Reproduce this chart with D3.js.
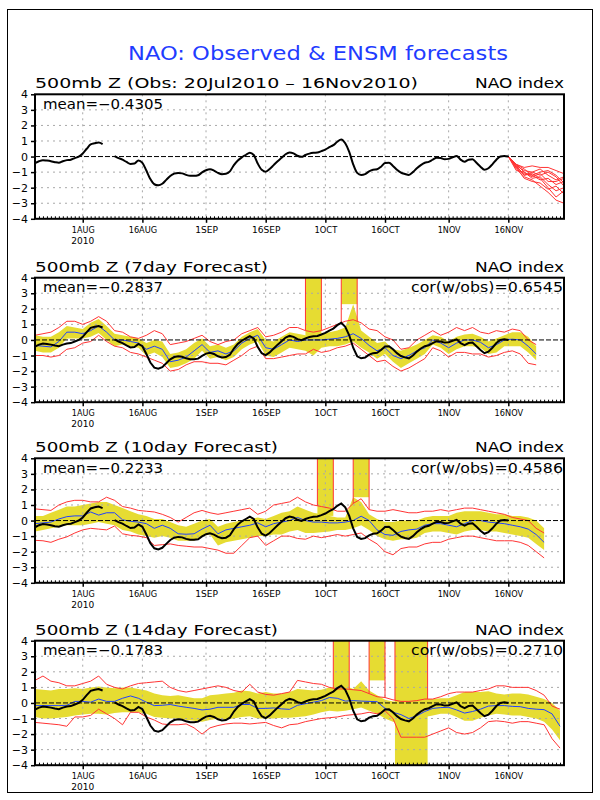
<!DOCTYPE html>
<html><head><meta charset="utf-8">
<script src="https://cdn.jsdelivr.net/npm/d3@7"></script>
<style>body{margin:0;background:#fff} text{font-family:"DejaVu Sans",sans-serif}</style>
</head><body><svg id="c" width="600" height="800"></svg>
<script>
// ---------------- DATA ----------------
const startDay = "2010-07-20";
const endDay = "2010-11-30";
const tickDates = ["2010-08-01","2010-08-16","2010-09-01","2010-09-16","2010-10-01","2010-10-16","2010-11-01","2010-11-16"];
const tickLabels = ["1AUG","16AUG","1SEP","16SEP","1OCT","16OCT","1NOV","16NOV"];
const yearLabel = "2010";
const yTicks = [4,3,2,1,0,-1,-2,-3,-4];

// observed NAO index, daily from 20Jul2010 (null = missing)
const obsValues = [-0.43,-0.3,-0.23,-0.26,-0.3,-0.36,-0.4,-0.3,-0.23,-0.2,
 -0.1,0.0,0.2,0.5,0.78,0.85,0.9,0.8,null,null,
 0.03,-0.1,-0.2,-0.35,-0.48,-0.45,-0.25,-0.4,-0.9,-1.45,
 -1.78,-1.85,-1.75,-1.5,-1.25,-1.1,-1.05,-1.08,-1.18,-1.24,
 -1.24,-1.2,-1.02,-0.88,-0.82,-0.9,-1.05,-1.13,-1.1,-0.95,
 -0.55,-0.25,-0.05,0.1,0.25,0.1,-0.45,-0.85,-0.97,-0.8,
 -0.55,-0.3,-0.08,0.15,0.26,0.2,0.05,-0.02,0.1,0.19,
 0.24,0.26,0.35,0.45,0.6,0.73,0.95,1.1,0.85,0.3,
 -0.5,-1.05,-1.18,-1.13,-0.95,-0.85,-0.82,-0.65,-0.42,-0.4,
 -0.6,-0.85,-1.03,-1.12,-1.18,-1.0,-0.75,-0.55,-0.4,-0.34,
 -0.2,-0.08,-0.1,-0.17,-0.15,-0.05,0.04,-0.2,-0.33,-0.2,
 -0.17,-0.4,-0.65,-0.85,-0.75,-0.5,-0.2,0.0,0.04,0.0];

// ensemble member forecasts from 16Nov (days 119,121,...,133)
const ensDays = [119,121,123,125,127,129,131,133];
const ensMembers = [
 [0,-0.5,-0.7,-0.6,-0.7,-0.7,-0.9,-1.1],
 [0,-0.6,-0.9,-1.0,-0.8,-1.2,-1.5,-1.3],
 [0,-0.7,-1.1,-1.2,-1.5,-1.4,-1.8,-1.6],
 [0,-0.5,-1.0,-1.4,-1.3,-1.8,-2.2,-2.0],
 [0,-0.8,-1.3,-1.5,-1.9,-2.3,-2.8,-3.0],
 [0,-0.6,-1.2,-1.0,-1.2,-1.0,-1.3,-1.9],
 [0,-0.7,-1.4,-1.6,-1.7,-2.1,-1.9,-2.4],
 [0,-0.9,-1.0,-1.3,-1.1,-1.6,-1.6,-1.4],
 [0,-0.6,-1.2,-1.1,-1.4,-2.0,-2.6,-2.2],
 [0,-0.5,-0.8,-1.2,-1.0,-0.9,-1.2,-1.7]];

// forecast panels, every 2 days from 20Jul2010
const mean7 = [-0.35,-0.4,-0.45,-0.1,0.5,0.5,0.4,0.6,0.9,0.5,0.0,0.0,-0.1,-0.2,-0.6,-0.4,-0.6,-1.4,-1.3,-1.1,-0.7,-0.3,-0.8,-0.7,-0.9,-0.7,-0.2,0.1,0.3,-0.5,-0.6,-0.3,0.0,-0.1,
 0.0,0.0,0.0,0.05,0.1,0.2,0.4,0.1,-0.35,-0.7,-0.5,-1.0,-1.2,-1.0,-0.7,-0.5,0.0,-0.2,-0.5,-0.2,0.0,0.0,-0.15,-0.5,-0.3,0.0,0.05,0.0,-0.4,-0.9];
const bandHi7 = [0.3,0.2,0.2,0.5,0.9,0.8,0.7,1.1,1.35,0.9,0.4,0.3,0.2,0.1,-0.2,0.0,-0.1,-0.9,-0.8,-0.6,-0.2,0.1,-0.4,-0.3,-0.5,-0.3,0.2,0.5,0.7,0.0,-0.1,0.2,0.5,0.4,
 0.3,0.4,0.4,0.5,0.6,0.8,2.3,0.6,0.2,-0.2,-0.1,-0.6,-0.7,-0.5,-0.3,0.0,0.3,0.2,-0.1,0.2,0.35,0.4,0.2,-0.1,0.1,0.3,0.5,0.5,0.2,-0.4];
const bandLo7 = [-0.7,-0.8,-0.8,-0.5,0.1,0.1,0.1,0.2,0.45,0.0,-0.4,-0.3,-0.4,-0.5,-1.0,-0.8,-1.1,-1.8,-1.7,-1.5,-1.2,-0.7,-1.2,-1.1,-1.3,-1.1,-0.6,-0.3,-0.1,-1.0,-1.1,-0.8,-0.5,-0.6,
 -0.7,-1.0,-0.5,-0.4,-0.4,-0.3,-0.1,-0.5,-0.8,-1.2,-0.9,-1.4,-1.8,-1.5,-1.2,-0.9,-0.3,-0.5,-0.9,-0.6,-0.4,-0.4,-0.5,-0.9,-0.8,-0.4,-0.4,-0.4,-0.8,-1.3];
const max7 = [0.3,0.4,0.5,0.8,1.2,1.2,1.0,1.2,1.5,1.2,0.6,0.5,0.2,0.1,0.3,0.6,0.4,-0.3,-0.2,-0.1,0.1,0.3,-0.1,-0.3,-0.1,0.0,0.4,0.6,0.8,0.2,0.3,0.5,0.8,0.8,
 0.6,0.5,0.6,0.8,1.0,1.2,1.3,1.1,0.7,0.6,0.2,0.0,-0.6,-0.5,0.0,0.3,0.6,0.3,0.5,0.8,0.6,0.8,0.5,0.4,0.6,0.5,0.7,0.6,0.0,-0.3];
const min7 = [-1.0,-1.0,-1.1,-1.0,-0.6,-0.5,-0.2,-0.1,0.3,-0.1,-0.4,-0.5,-0.8,-0.9,-1.1,-1.3,-1.5,-2.0,-1.9,-1.6,-1.4,-1.4,-1.5,-1.5,-1.6,-1.3,-1.0,-0.6,-0.4,-1.2,-1.2,-1.1,-1.0,-0.9,
 -0.9,-0.6,-0.8,-0.7,-0.5,-0.4,-0.2,-0.6,-1.0,-1.4,-1.3,-1.7,-2.0,-1.8,-1.5,-1.2,-0.5,-0.7,-1.1,-0.8,-0.8,-0.9,-0.9,-1.1,-1.0,-0.8,-0.7,-0.9,-1.5,-1.6];
const spikes7 = [[68,72,0.3],[77,81,2.3]];

const mean10 = [-0.2,-0.15,-0.1,0.1,0.25,0.3,0.3,0.55,0.35,0.5,0.5,0.05,-0.05,-0.1,-0.2,-0.5,-0.3,-0.5,-0.85,-0.88,-0.85,-0.55,-0.3,-0.85,-0.6,-0.5,-0.4,-0.3,-0.15,-0.4,-0.2,-0.1,0.0,0.2,
 0.0,-0.1,-0.1,-0.15,-0.15,-0.1,0.0,0.28,0.0,-0.6,-0.9,-0.95,-0.7,-0.6,-0.55,-0.3,-0.2,-0.2,-0.3,-0.4,-0.2,0.0,0.0,-0.1,-0.15,-0.2,-0.3,-0.4,-0.55,-0.9,-1.4];
const bandHi10 = [0.3,0.3,0.5,0.7,0.9,0.9,1.0,1.1,1.2,1.2,1.0,0.8,0.6,0.4,0.3,0.1,0.1,-0.1,-0.3,-0.4,-0.2,0.0,0.1,-0.4,-0.2,-0.1,0.0,0.1,0.2,0.1,0.3,0.5,0.6,0.9,
 0.7,0.5,0.4,0.3,0.2,0.2,1.5,1.2,0.4,0.1,-0.1,-0.1,0.0,0.0,0.0,0.2,0.3,0.3,0.3,0.5,0.6,0.6,0.6,0.5,0.4,0.4,0.3,0.3,0.2,0.0,-0.5];
const bandLo10 = [-0.7,-0.6,-0.5,-0.4,-0.3,-0.3,-0.3,-0.2,-0.1,-0.2,-0.3,-0.6,-0.7,-0.9,-1.0,-1.1,-1.0,-1.1,-1.3,-1.3,-1.3,-1.0,-0.9,-1.6,-1.4,-1.3,-1.2,-1.1,-1.0,-1.0,-0.9,-0.9,-0.7,-0.6,
 -0.8,-0.8,-0.75,-0.7,-0.6,-0.6,-0.5,-0.3,-0.6,-1.0,-1.2,-1.3,-1.2,-1.2,-1.1,-0.8,-0.7,-0.7,-0.8,-0.9,-0.7,-0.6,-0.6,-0.7,-0.7,-0.8,-0.9,-1.0,-1.1,-1.5,-1.9];
const max10 = [0.75,0.7,0.65,1.0,1.2,1.3,1.3,1.2,1.2,1.5,1.3,0.9,0.8,0.65,0.6,0.55,0.4,0.2,-0.1,0.2,0.5,0.65,0.5,0.4,0.5,0.6,0.7,0.8,0.4,0.6,1.0,1.1,1.2,1.5,
 1.2,1.0,0.9,0.8,0.6,0.6,1.1,1.4,0.7,0.6,0.6,0.7,0.6,0.5,0.5,0.6,0.6,0.7,0.6,0.7,0.8,0.8,0.7,0.6,0.5,0.4,0.2,0.1,0.0,-0.5,-0.8];
const min10 = [-1.27,-1.3,-1.4,-1.2,-1.05,-0.8,-0.6,-0.5,-0.55,-0.6,-0.35,-0.85,-0.95,-1.0,-1.1,-1.6,-1.55,-1.5,-1.6,-1.65,-1.7,-1.7,-1.8,-1.9,-2.1,-2.1,-1.6,-1.1,-1.0,-1.6,-1.3,-1.0,-1.0,-1.15,
 -1.2,-1.0,-1.1,-1.0,-0.9,-1.0,-0.9,-0.8,-1.2,-1.5,-2.0,-2.2,-1.8,-1.7,-1.7,-1.5,-1.4,-1.4,-1.2,-1.1,-1.0,-1.0,-1.1,-1.2,-1.3,-1.3,-1.3,-1.4,-1.6,-2.0,-2.4];
const spikes10 = [[71,75,0.3],[80,84,1.5]];

const mean14 = [-0.17,-0.17,-0.17,-0.17,-0.15,0.1,0.1,0.05,0.25,0.1,0.1,0.3,0.45,0.3,0.05,-0.17,-0.15,-0.1,-0.2,-0.28,-0.35,-0.45,-0.4,-0.28,-0.28,-0.28,-0.1,-0.1,-0.35,-0.35,-0.32,-0.38,-0.41,-0.15,
 -0.05,0.05,0.15,0.35,0.3,0.12,0.15,0.12,0.1,0.08,-0.35,-0.6,-0.75,-1.0,-0.82,-0.55,-0.35,-0.3,-0.28,-0.45,-0.65,-0.55,-0.4,-0.2,-0.17,-0.17,-0.22,-0.24,-0.35,-0.4,-0.43,-0.7,-1.5];
const bandHi14 = [0.9,0.85,0.8,0.9,0.9,0.95,0.9,1.0,1.05,1.0,0.95,1.0,1.0,0.9,0.8,0.6,0.5,0.45,0.5,0.4,0.3,0.3,0.5,0.55,0.6,0.65,0.8,0.75,0.6,0.7,0.6,0.6,0.7,0.9,
 0.85,0.8,0.85,1.0,1.0,1.1,0.9,1.4,0.8,0.5,0.2,0.1,0.1,0.1,0.2,0.25,0.25,0.3,0.3,0.5,0.7,0.7,0.7,0.75,0.6,0.55,0.6,0.6,0.55,0.4,0.25,0.0,-0.5];
const bandLo14 = [-0.9,-1.0,-1.0,-0.95,-0.9,-0.8,-0.75,-0.7,-0.7,-0.75,-0.65,-0.6,-0.6,-0.6,-0.7,-0.9,-0.95,-1.0,-1.0,-1.1,-1.15,-1.2,-1.1,-1.0,-1.05,-1.0,-0.9,-0.85,-1.0,-1.0,-1.0,-0.95,-0.95,-0.9,
 -0.85,-0.75,-0.6,-0.5,-0.55,-0.5,-0.4,-0.3,-0.5,-0.7,-1.0,-1.2,-1.3,-1.3,-1.2,-0.9,-0.8,-0.7,-0.7,-0.9,-1.15,-1.15,-0.95,-0.8,-0.7,-0.75,-0.8,-0.8,-0.9,-1.0,-1.2,-1.7,-2.4];
const max14 = [1.45,1.73,1.4,1.3,1.1,1.1,1.25,1.4,1.73,1.2,1.0,0.9,1.1,1.25,1.3,1.35,1.4,1.0,0.8,0.7,0.8,0.9,1.0,1.1,1.0,0.8,0.7,1.2,0.7,0.55,0.5,0.6,0.7,1.45,
 1.35,1.25,1.2,1.0,0.9,0.9,0.85,0.8,0.6,0.4,0.35,0.2,0.1,0.1,0.15,0.25,0.25,0.4,0.6,0.7,0.7,0.7,0.8,0.9,1.1,1.1,1.0,1.0,1.0,0.8,0.5,-0.2,-0.4];
const min14 = [-1.25,-1.3,-1.35,-1.4,-1.5,-0.9,-0.9,-0.8,-0.4,-0.7,-1.0,-1.4,-0.6,-0.6,-0.9,-1.1,-1.35,-1.4,-1.4,-1.35,-1.6,-2.0,-1.6,-1.45,-1.35,-1.3,-1.3,-1.35,-1.3,-1.25,-1.45,-1.6,-1.4,-1.35,
 -1.2,-1.1,-1.0,-0.95,-0.9,-0.8,-0.75,-0.7,-0.6,-0.7,-0.5,-1.0,-2.2,-2.2,-2.2,-2.2,-2.0,-1.8,-1.6,-1.9,-2.0,-1.9,-1.6,-1.2,-1.15,-1.2,-1.3,-1.2,-1.2,-1.3,-1.4,-2.3,-2.9];
const spikes14 = [[75,79,0.9],[84,88,1.45],[90.5,98.7,-4]];

const panelTitles = ["500mb Z (Obs: 20Jul2010 \u2013 16Nov2010)","500mb Z (7day Forecast)","500mb Z (10day Forecast)","500mb Z (14day Forecast)"];
const meanLabels = ["mean=\u22120.4305","mean=\u22120.2837","mean=\u22120.2233","mean=\u22120.1783"];
const corLabels = [null,"cor(w/obs)=0.6545","cor(w/obs)=0.4586","cor(w/obs)=0.2710"];
const mainTitle = "NAO: Observed & ENSM forecasts";
const rightTitle = "NAO index";

// ---------------- DRAW ----------------
const svg = d3.select("#c");
const parse = d3.utcParse("%Y-%m-%d");
const d0 = parse(startDay);
const toDate = d => d3.utcHour.offset(d0, Math.round(d*24));
const x = d3.scaleUtc().domain([d0, parse(endDay)]).range([35, 564]);
const tDates = tickDates.map(parse);
const YELLOW = "#e6dc32", RED = "#ff3434", BLUE = "#2040ff";

svg.append("rect").attr("x",7.5).attr("y",9.5).attr("width",585).attr("height",783)
  .attr("fill","none").attr("stroke","#000").attr("stroke-width",1);

svg.append("text").attr("x",128).attr("y",60).attr("fill","#1f3cff")
  .attr("font-size",20).attr("textLength",380).attr("lengthAdjust","spacingAndGlyphs").text(mainTitle);

const tops = [94.3, 277.7, 458.3, 640.7];
const plotH = 124.5;
const fc = [
  null,
  {mean:mean7, hi:bandHi7, lo:bandLo7, max:max7, min:min7, spikes:spikes7},
  {mean:mean10, hi:bandHi10, lo:bandLo10, max:max10, min:min10, spikes:spikes10},
  {mean:mean14, hi:bandHi14, lo:bandLo14, max:max14, min:min14, spikes:spikes14}
];
const titleW = [383, 233, 243, 243];

tops.forEach((top, p) => {
  const y = d3.scaleLinear().domain([-4,4]).range([top+plotH, top]);
  const g = svg.append("g");
  const cid = "clip"+p;
  svg.append("clipPath").attr("id",cid).append("rect")
     .attr("x",35).attr("y",top).attr("width",529).attr("height",plotH);
  const pl = g.append("g").attr("clip-path",`url(#${cid})`);

  const f = fc[p];
  if (f) {
    const days = f.mean.map((_,i)=>i*2);
    const rows = days.map((d,i)=>({d, m:f.mean[i], hi:f.hi[i], lo:f.lo[i]}));
    f.spikes.forEach(s => {
      pl.append("rect").attr("x",x(toDate(s[0]))).attr("width",x(toDate(s[1]))-x(toDate(s[0])))
        .attr("y",y(4)).attr("height",y(s[2])-y(4)).attr("fill",YELLOW);
    });
    pl.append("path").datum(rows).attr("fill",YELLOW)
      .attr("d", d3.area().x(r=>x(toDate(r.d))).y0(r=>y(r.lo)).y1(r=>y(r.hi)));
  }
  // grid
  yTicks.filter(v=>v!==0 && Math.abs(v)<4).forEach(v=>{
    pl.append("line").attr("x1",35).attr("x2",564).attr("y1",y(v)).attr("y2",y(v))
      .attr("stroke","#a8a8a8").attr("stroke-dasharray","2,4");
  });
  tDates.forEach(t=>{
    pl.append("line").attr("x1",x(t)).attr("x2",x(t)).attr("y1",top).attr("y2",top+plotH)
      .attr("stroke","#a8a8a8").attr("stroke-dasharray","2,4");
  });
  if (f) {
    const days = f.mean.map((_,i)=>i*2);
    const interp = (arr, d) => { const i=Math.min(Math.floor(d/2), arr.length-2); const t=(d-i*2)/2; return arr[i]+(arr[i+1]-arr[i])*t; };
    ["max","min"].forEach(k=>{
      pl.append("path").datum(f[k]).attr("fill","none").attr("stroke",RED).attr("stroke-width",1)
        .attr("d", d3.line().x((v,i)=>x(toDate(days[i]))).y(v=>y(v)));
    });
    f.spikes.forEach(s=>{
      [s[0], s[1]].forEach(e=>{
        pl.append("line").attr("x1",x(toDate(e))).attr("x2",x(toDate(e)))
          .attr("y1",y(4)).attr("y2",y(interp(f.max,e))).attr("stroke",RED);
      });
    });
    pl.append("path").datum(f.mean).attr("fill","none").attr("stroke",BLUE).attr("stroke-width",1)
      .attr("d", d3.line().x((v,i)=>x(toDate(days[i]))).y(v=>y(v)));
  } else {
    ensMembers.forEach(m=>{
      pl.append("path").datum(m).attr("fill","none").attr("stroke",RED).attr("stroke-width",1)
        .attr("d", d3.line().x((v,i)=>x(toDate(ensDays[i]))).y(v=>y(v)));
    });
  }
  pl.append("line").attr("x1",35).attr("x2",564).attr("y1",y(0)).attr("y2",y(0))
    .attr("stroke","#000").attr("stroke-dasharray","5,2");
  pl.append("path").datum(obsValues).attr("fill","none").attr("stroke","#000").attr("stroke-width",2)
    .attr("d", d3.line().defined(v=>v!==null).x((v,i)=>x(toDate(i))).y(v=>y(v))
      .curve(p===0 ? d3.curveMonotoneX : d3.curveLinear));

  g.append("rect").attr("x",35).attr("y",top).attr("width",529).attr("height",plotH)
    .attr("fill","none").attr("stroke","#000").attr("stroke-width",2);
  const minor = g.append("g").attr("transform",`translate(0,${top+plotH})`)
    .call(d3.axisBottom(x).ticks(d3.utcDay.every(1)).tickSize(-2.5).tickFormat(""));
  minor.select(".domain").remove();
  const ax = g.append("g").attr("transform",`translate(0,${top+plotH})`)
    .call(d3.axisBottom(x).tickValues(tDates).tickFormat((d,i)=>tickLabels[i]).tickSize(4).tickPadding(4));
  ax.select(".domain").remove();
  ax.selectAll("line").attr("stroke-width",1.5);
  ax.selectAll("text").attr("font-size",9.5).attr("font-family","Liberation Sans").attr("dy",null).attr("y",14.3)
    .attr("textLength",function(){return this.textContent.length*5.7;}).attr("lengthAdjust","spacingAndGlyphs");
  g.append("text").attr("x",x(tDates[0])).attr("y",top+plotH+25.2).attr("text-anchor","middle")
    .attr("font-size",9.5).attr("font-family","Liberation Sans")
    .attr("textLength",23).attr("lengthAdjust","spacingAndGlyphs").text(yearLabel);
  const ay = g.append("g").attr("transform","translate(35,0)")
    .call(d3.axisLeft(y).tickValues(yTicks).tickSize(4).tickPadding(3)
      .tickFormat(v=> v<0 ? "\u2212"+(-v) : String(v)));
  ay.select(".domain").remove();
  ay.selectAll("line").attr("stroke-width",1.5);
  ay.selectAll("text").attr("font-size",11).attr("font-family","DejaVu Sans");

  g.append("text").attr("x",35).attr("y",top-6).attr("font-size",13.5)
    .attr("textLength",titleW[p]).attr("lengthAdjust","spacingAndGlyphs").text(panelTitles[p]);
  g.append("text").attr("x",564).attr("y",top-6).attr("font-size",13.5).attr("text-anchor","end")
    .attr("textLength",89).attr("lengthAdjust","spacingAndGlyphs").text(rightTitle);
  g.append("text").attr("x",43).attr("y",top+14.5).attr("font-size",13.5)
    .attr("textLength",120).attr("lengthAdjust","spacingAndGlyphs").text(meanLabels[p]);
  if (corLabels[p]) {
    g.append("text").attr("x",563).attr("y",top+14.5).attr("font-size",13.5).attr("text-anchor","end")
      .attr("textLength",152).attr("lengthAdjust","spacingAndGlyphs").text(corLabels[p]);
  }
});
</script></body></html>
